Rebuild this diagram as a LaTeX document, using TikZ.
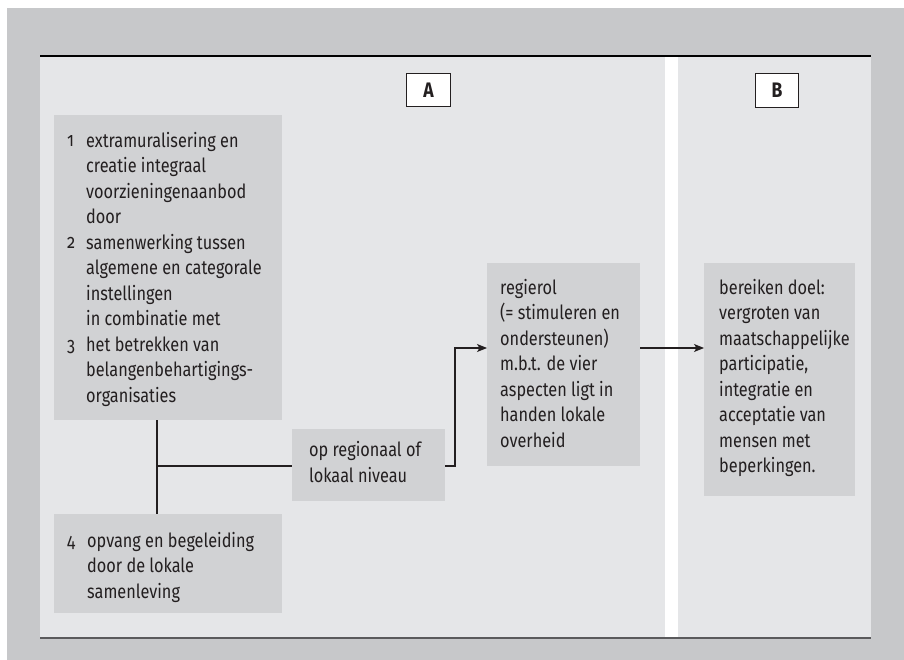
\documentclass[tikz,border=0pt]{standalone}
\usepackage{fontspec}
\setmainfont{Fira Sans}[Numbers=OldStyle, FakeStretch=0.835]
\usetikzlibrary{arrows.meta}
\definecolor{outergray}{HTML}{C7C8CA}
\definecolor{panelgray}{HTML}{E5E6E8}
\definecolor{boxgray}{HTML}{D1D2D4}
\definecolor{ink}{HTML}{231F20}
\definecolor{rulegray}{HTML}{5A5A5C}
\begin{document}
\begin{tikzpicture}[x=1pt,y=-1pt,
  box/.style={fill=boxgray, draw=none, inner sep=0pt, anchor=north west},
  txt/.style={text=ink, inner sep=0pt, anchor=base west, align=left, font=\fontsize{19.5}{25.5}\selectfont},
  num/.style={text=ink, inner sep=0pt, anchor=base west, font=\fontsize{19.5}{25.5}\selectfont},
  link/.style={draw=ink, line width=1.2pt},
  arr/.style={link, -{Stealth[length=10pt,width=8pt,inset=2.5pt]}},
  tag/.style={draw=ink, fill=white, line width=1pt, inner sep=0pt, anchor=north west,
    font=\bfseries\fontsize{21}{21}\selectfont, text=ink}]
\useasboundingbox (0,0) rectangle (904,660);
\fill[white] (0,0) rectangle (904,660);
\fill[outergray] (7,8) rectangle (904,660);
\fill[panelgray] (40,56) rectangle (871,638);
\fill[white] (665,57) rectangle (678,637);
\draw[black, line width=2pt] (40,56) -- (871,56);
\draw[rulegray, line width=2pt] (40,638) -- (871,638);

\node[tag, minimum width=44pt, minimum height=33pt] (tA) at (406,73) {A};
\node[tag, minimum width=43pt, minimum height=34pt] (tB) at (755,73) {B};

\node[box, minimum width=228pt, minimum height=305pt] (b1) at (54,115) {};
\node[box, minimum width=228pt, minimum height=99pt] (b4) at (54,514) {};
\node[box, minimum width=153pt, minimum height=72pt] (op) at (292,429) {};
\node[box, minimum width=153pt, minimum height=203pt] (rg) at (487,263) {};
\node[box, minimum width=151pt, minimum height=233pt] (bt) at (704,263) {};

% multi-line text nodes are anchored at the baseline of their last line
\node[num] (n1) at (67,147) {1};
\node[num] (n2) at (67,249) {2};
\node[num] (n3) at (67,351) {3};
\node[txt] (t1) at (86,402) {extramuralisering en\\creatie integraal\\voorzieningenaanbod\\door\\samenwerking tussen\\algemene en categorale\\instellingen\\in combinatie met\\het betrekken van\\belangenbehartigings-\\organisaties};
\node[num] (n4) at (67,547) {4};
\node[txt] (t4) at (87,598) {opvang en begeleiding\\door de lokale\\samenleving};
\node[txt] (top) at (309,482) {op regionaal of\\lokaal niveau};
\node[txt] (trg) at (500,447) {regierol\\(= stimuleren en\\ondersteunen)\\m.b.t. de vier\\aspecten ligt in\\handen lokale\\overheid};
\node[txt] (tbt) at (719,472.5) {bereiken doel:\\vergroten van\\maatschappelijke\\participatie,\\integratie en\\acceptatie van\\mensen met\\beperkingen.};

\coordinate (j) at (157,466);
\coordinate (k) at (455,348);
\draw[link] (j |- b1.south) -- (j |- b4.north);
\draw[link] (j) -- (op.west |- j);
\draw[arr] (op.east |- j) -| (k) -- (k -| rg.west);
\draw[arr] (rg.east |- k) -- (bt.west |- k);
\end{tikzpicture}
\end{document}
